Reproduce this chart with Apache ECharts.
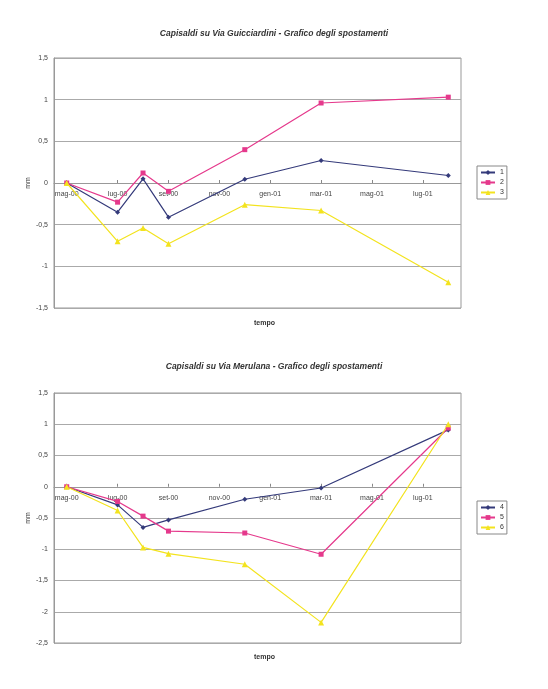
<!DOCTYPE html>
<html><head><meta charset="utf-8">
<script src="https://cdn.jsdelivr.net/npm/echarts@6/dist/echarts.min.js"></script>
<style>html,body{margin:0;padding:0;background:#fff}#c{width:548px;height:689px}</style>
</head><body><div id="c"></div>
<script>
// Month categories of the time axis (one per month)
const months = ['mag-00','giu-00','lug-00','ago-00','set-00','ott-00','nov-00','dic-00','gen-01','feb-01','mar-01','apr-01','mag-01','giu-01','lug-01','ago-01'];
// Survey dates (months in which readings were taken)
const surveys = ['mag-00','lug-00','ago-00','set-00','dic-00','mar-01','ago-01'];
// Via Guicciardini
const s1 = [0, -0.35, 0.05, -0.41, 0.045, 0.27, 0.09];
const s2 = [0, -0.23, 0.12, -0.10, 0.40, 0.96, 1.03];
const s3 = [0, -0.70, -0.54, -0.73, -0.26, -0.33, -1.19];
// Via Merulana
const s4 = [0, -0.29, -0.65, -0.53, -0.20, -0.02, 0.91];
const s5 = [0, -0.235, -0.47, -0.71, -0.74, -1.08, 0.94];
const s6 = [0, -0.38, -0.97, -1.07, -1.24, -2.17, 1.00];

const titles = ['Capisaldi su Via Guicciardini - Grafico degli spostamenti','Capisaldi su Via Merulana - Grafico degli spostamenti'];

const NAVY = '#343a7a', MAG = '#e5398c', YEL = '#f3e31e';
const FONT = '"Liberation Sans", Arial, sans-serif';
const pairs = vals => surveys.map((m, i) => [m, vals[i]]);
const fmt = v => String(v).replace('.', ',');

function xAx(gi, labelMargin) {
  return {
    type: 'category', gridIndex: gi, data: months, boundaryGap: true,
    axisLine: { onZero: true, lineStyle: { color: '#999', width: 1 } },
    axisTick: { show: true, inside: true, length: 3, interval: 1, alignWithLabel: true, lineStyle: { color: '#888' } },
    axisLabel: { interval: 1, fontSize: 7, color: '#444', fontFamily: FONT, margin: labelMargin },
    splitLine: { show: false }
  };
}
function yAx(gi, min) {
  return {
    type: 'value', gridIndex: gi, min: min, max: 1.5, interval: 0.5,
    name: 'mm', nameLocation: 'middle', nameGap: 22, nameRotate: 90, nameMoveOverlap: false,
    nameTextStyle: { fontSize: 7, color: '#333', fontFamily: FONT },
    axisLine: { show: true, lineStyle: { color: '#999' } },
    axisTick: { show: false },
    axisLabel: { fontSize: 7, color: '#444', fontFamily: FONT, margin: 6, formatter: fmt },
    splitLine: { lineStyle: { color: '#aaa', width: 1 } }
  };
}
function ser(name, vals, color, sym, gi) {
  return {
    name: name, type: 'line', xAxisIndex: gi, yAxisIndex: gi, data: pairs(vals),
    symbol: sym, symbolSize: sym === 'triangle' ? 6 : 5, color: color,
    lineStyle: { color: color, width: 1.2 }, itemStyle: { color: color },
    connectNulls: true, animation: false
  };
}
function leg(top, names) {
  return {
    orient: 'vertical', left: 477, top: top, data: names,
    itemWidth: 14, itemHeight: 6, itemGap: 3, padding: [3, 3, 3, 3],
    borderColor: '#888', borderWidth: 1, textStyle: { fontSize: 7, color: '#333', fontFamily: FONT }
  };
}
const chart = echarts.init(document.getElementById('c'));
chart.setOption({
  backgroundColor: '#fff',
  animation: false,
  title: [
    { text: titles[0], left: 'center', top: 24, textStyle: { fontSize: 8.5, fontWeight: 'bold', fontStyle: 'italic', color: '#333', fontFamily: FONT } },
    { text: 'tempo', left: 249, top: 315, textStyle: { fontSize: 7, fontWeight: 'bold', color: '#333', fontFamily: FONT } },
    { text: titles[1], left: 'center', top: 357, textStyle: { fontSize: 8.5, fontWeight: 'bold', fontStyle: 'italic', color: '#333', fontFamily: FONT } },
    { text: 'tempo', left: 249, top: 649, textStyle: { fontSize: 7, fontWeight: 'bold', color: '#333', fontFamily: FONT } }
  ],
  legend: [leg(166, ['1', '2', '3']), leg(501, ['4', '5', '6'])],
  grid: [
    { left: 54, top: 58, width: 407, height: 250, show: true, borderColor: '#999', borderWidth: 1 },
    { left: 54, top: 393, width: 407, height: 250, show: true, borderColor: '#999', borderWidth: 1 }
  ],
  xAxis: [xAx(0, -117), xAx(1, -148)],
  yAxis: [yAx(0, -1.5), yAx(1, -2.5)],
  series: [
    ser('1', s1, NAVY, 'diamond', 0),
    ser('2', s2, MAG, 'rect', 0),
    ser('3', s3, YEL, 'triangle', 0),
    ser('4', s4, NAVY, 'diamond', 1),
    ser('5', s5, MAG, 'rect', 1),
    ser('6', s6, YEL, 'triangle', 1)
  ]
});
</script></body></html>
